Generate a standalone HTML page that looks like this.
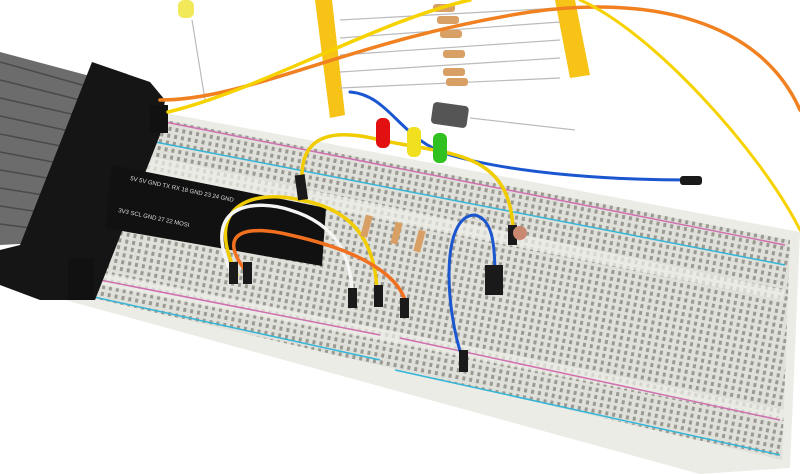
<!DOCTYPE html>
<html><head><style>
html,body{margin:0;padding:0;background:#fff;width:800px;height:474px;overflow:hidden}
svg{display:block}
text{font-family:"Liberation Sans",sans-serif}
</style></head><body>
<svg width="800" height="474" viewBox="0 0 800 474" xmlns="http://www.w3.org/2000/svg">
<defs>
<pattern id="holes" width="7" height="7" patternUnits="userSpaceOnUse" patternTransform="rotate(11)">
<rect width="7" height="7" fill="#e0e0da"/>
<rect x="1" y="1" width="3" height="4" fill="#9a9a92"/>
</pattern>
</defs>
<!-- tape -->
<polygon points="315,0 332,0 345,115 330,118" fill="#f7c316"/>
<polygon points="555,0 575,0 590,75 570,78" fill="#f7c316"/>
<g stroke="#bbb" stroke-width="1.2">
<line x1="340" y1="20" x2="560" y2="8"/><line x1="340" y1="38" x2="560" y2="22"/>
<line x1="340" y1="55" x2="560" y2="40"/><line x1="340" y1="72" x2="560" y2="58"/>
<line x1="340" y1="88" x2="560" y2="78"/>
<line x1="470" y1="118" x2="575" y2="130"/>
<line x1="192" y1="20" x2="205" y2="100"/>
</g>
<g fill="#d9a066">
<rect x="433" y="4" width="22" height="8" rx="3"/><rect x="437" y="16" width="22" height="8" rx="3"/>
<rect x="440" y="30" width="22" height="8" rx="3"/><rect x="443" y="50" width="22" height="8" rx="3"/>
<rect x="443" y="68" width="22" height="8" rx="3"/><rect x="446" y="78" width="22" height="8" rx="3"/>
</g>
<rect x="178" y="0" width="16" height="18" rx="6" fill="#f1e95a"/>
<rect x="432" y="104" width="36" height="22" rx="4" fill="#555" transform="rotate(8 450 114)"/>
<!-- ribbon cable -->
<polygon points="0,52 105,80 95,240 0,245" fill="#6c6c6c"/>
<g stroke="#4a4a4a" stroke-width="1.5">
<line x1="0" y1="62" x2="100" y2="90"/><line x1="0" y1="80" x2="100" y2="105"/><line x1="0" y1="98" x2="98" y2="120"/>
<line x1="0" y1="116" x2="97" y2="137"/><line x1="0" y1="134" x2="96" y2="153"/><line x1="0" y1="152" x2="95" y2="170"/>
<line x1="0" y1="170" x2="94" y2="186"/><line x1="0" y1="188" x2="93" y2="203"/><line x1="0" y1="206" x2="92" y2="220"/>
<line x1="0" y1="224" x2="92" y2="236"/>
</g>
<!-- breadboard -->
<polygon points="160,112 800,232 790,468 700,474 65,300" fill="#ecece6"/>
<polygon points="165,120 790,240 782,460 80,295" fill="url(#holes)"/>
<polygon points="120,150 785,290 782,300 110,165" fill="#f0f0ea" opacity=".7"/>
<polygon points="90,270 785,410 783,420 85,282" fill="#f0f0ea" opacity=".7"/>
<g stroke-width="1.5" fill="none">
<line x1="165" y1="122" x2="785" y2="245" stroke="#d070b0"/>
<line x1="145" y1="140" x2="785" y2="265" stroke="#33b5d8" />
<line x1="100" y1="280" x2="380" y2="335" stroke="#d070b0"/>
<line x1="85" y1="295" x2="380" y2="360" stroke="#33b5d8"/>
<line x1="400" y1="338" x2="780" y2="420" stroke="#d070b0"/>
<line x1="395" y1="370" x2="780" y2="455" stroke="#33b5d8"/>
</g>
<!-- connector -->
<polygon points="92,62 150,82 165,100 160,135 95,300 40,300 0,285 0,250 20,245" fill="#151515"/>
<rect x="150" y="105" width="18" height="28" fill="#111"/>
<rect x="68" y="258" width="26" height="42" fill="#111"/>
<!-- adapter board -->
<polygon points="112,165 326,208 322,266 105,228" fill="#111"/>
<text x="130" y="180" fill="#ddd" font-size="6" transform="rotate(12 130 180)">5V 5V GND TX RX 18 GND 23 24 GND</text>
<text x="118" y="212" fill="#ddd" font-size="6" transform="rotate(12 118 212)">3V3 SCL GND 27 22 MOSI</text>
<!-- wires -->
<g fill="none" stroke-width="3.5" stroke-linecap="round">
<path d="M160,100 C250,100 350,40 530,12 C650,-5 760,20 800,110" stroke="#f08020"/>
<path d="M168,112 C260,90 380,20 470,0" stroke="#f6d200"/>
<path d="M580,0 C650,30 760,150 800,230" stroke="#f6d200" stroke-width="3"/>
<path d="M350,92 C390,95 400,140 450,155 C520,175 620,180 690,180" stroke="#1a56d0" stroke-width="3"/>
<path d="M302,180 C300,130 340,130 380,140 C450,155 510,150 513,230" stroke="#f0cc00"/>
<path d="M237,275 C200,200 260,190 300,200 C360,210 375,250 377,290" stroke="#f0cc00"/>
<path d="M230,270 C200,200 260,200 290,210 C340,225 350,260 352,290" stroke="#f5f5f5"/>
<path d="M245,270 C215,230 250,225 290,235 C380,255 400,285 405,300" stroke="#f07020"/>
<path d="M463,360 C445,310 440,215 475,215 C495,220 495,250 495,290" stroke="#1a56d0" stroke-width="3"/>
</g>
<g fill="#1a1a1a">
<rect x="296" y="175" width="10" height="25" transform="rotate(-8 300 185)"/>
<rect x="508" y="225" width="9" height="20"/>
<rect x="348" y="288" width="9" height="20"/>
<rect x="374" y="285" width="9" height="22"/>
<rect x="400" y="298" width="9" height="20"/>
<rect x="229" y="262" width="9" height="22"/>
<rect x="243" y="262" width="9" height="22"/>
<rect x="459" y="350" width="9" height="22"/>
<rect x="680" y="176" width="22" height="9" rx="3"/>
<rect x="485" y="265" width="18" height="30"/>
</g>
<!-- LEDs -->
<rect x="376" y="118" width="14" height="30" rx="6" fill="#e21010"/>
<rect x="407" y="127" width="14" height="30" rx="6" fill="#f0e020"/>
<rect x="433" y="133" width="14" height="30" rx="6" fill="#30c020"/>
<g fill="#d9a066"><rect x="363" y="215" width="7" height="22" transform="rotate(15 366 226)"/><rect x="393" y="222" width="7" height="22" transform="rotate(15 396 233)"/><rect x="416" y="230" width="7" height="22" transform="rotate(15 419 241)"/></g>
<circle cx="520" cy="233" r="7" fill="#c98870"/>
</svg>
</body></html>
